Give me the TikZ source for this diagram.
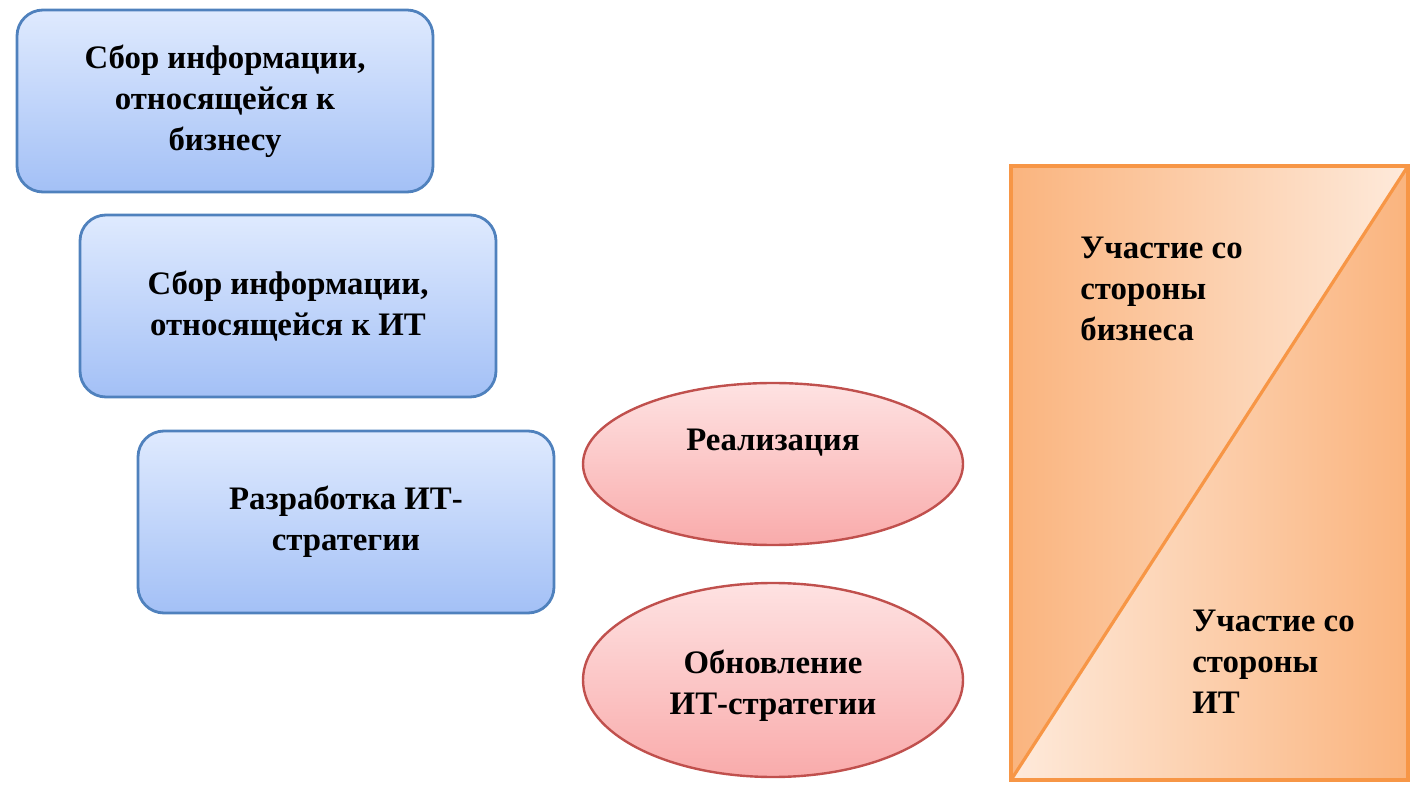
\documentclass[tikz,border=0pt]{standalone}
\usepackage{fontspec}
\setmainfont{Liberation Serif}
\usetikzlibrary{shapes.geometric}
\definecolor{boxline}{HTML}{4F81BD}
\definecolor{boxtop}{HTML}{DFEAFE}
\definecolor{boxbot}{HTML}{A3C0F6}
\definecolor{ovalline}{HTML}{C0504D}
\definecolor{ovaltop}{HTML}{FEE2E2}
\definecolor{ovalbot}{HTML}{F9ABAB}
\definecolor{orgline}{HTML}{F79646}
\definecolor{orgdark}{HTML}{FAB47E}
\definecolor{orglight}{HTML}{FEEADB}
\begin{document}
\begin{tikzpicture}[x=0.5pt,y=-0.5pt,
  every node/.style={font=\fontsize{16.4}{20.5}\selectfont\bfseries},
  infobox/.style={draw=boxline,line width=1.4pt,rounded corners=13pt,top color=boxtop,bottom color=boxbot,minimum width=208pt,minimum height=91pt,align=center},
  phase/.style={ellipse,draw=ovalline,line width=1.2pt,top color=ovaltop,bottom color=ovalbot,minimum width=190pt,align=center,inner sep=0pt},
  sidetext/.style={anchor=west,align=left,inner sep=0pt}]
\useasboundingbox (0,0) rectangle (1412,785);
% Information gathering and strategy blocks
\node[infobox] (bizinfo) at (225,101) {Сбор информации,\\относящейся к\\бизнесу};
\node[infobox] (itinfo) at (288,306) {Сбор информации,\\относящейся к ИТ};
\node[infobox] (itstrat) at (346,522) {Разработка ИТ-\\стратегии};
% Realisation phases
\node[phase,minimum height=81pt] (realize) at (773,464) {\raisebox{10.5pt}[\height][\depth]{Реализация}};
\node[phase,minimum height=97pt] (renew) at (773,680) {\raisebox{-3pt}[\height][\depth]{\begin{tabular}{@{}c@{}}Обновление\\ИТ-стратегии\end{tabular}}};
% Participation split
\shade[left color=orgdark,right color=orglight] (1011,166) -- (1408,166) -- (1011,780) -- cycle;
\shade[left color=orglight,right color=orgdark] (1408,166) -- (1408,780) -- (1011,780) -- cycle;
\draw[orgline,line width=1.6pt] (1011,166) rectangle (1408,780);
\draw[orgline,line width=1.6pt] (1011,780) -- (1408,166);
\node[sidetext] (bizside) at (1080,289) {Участие со\\стороны\\бизнеса};
\node[sidetext] (itside) at (1192,662) {Участие со\\стороны\\ИТ};
\end{tikzpicture}
\end{document}
